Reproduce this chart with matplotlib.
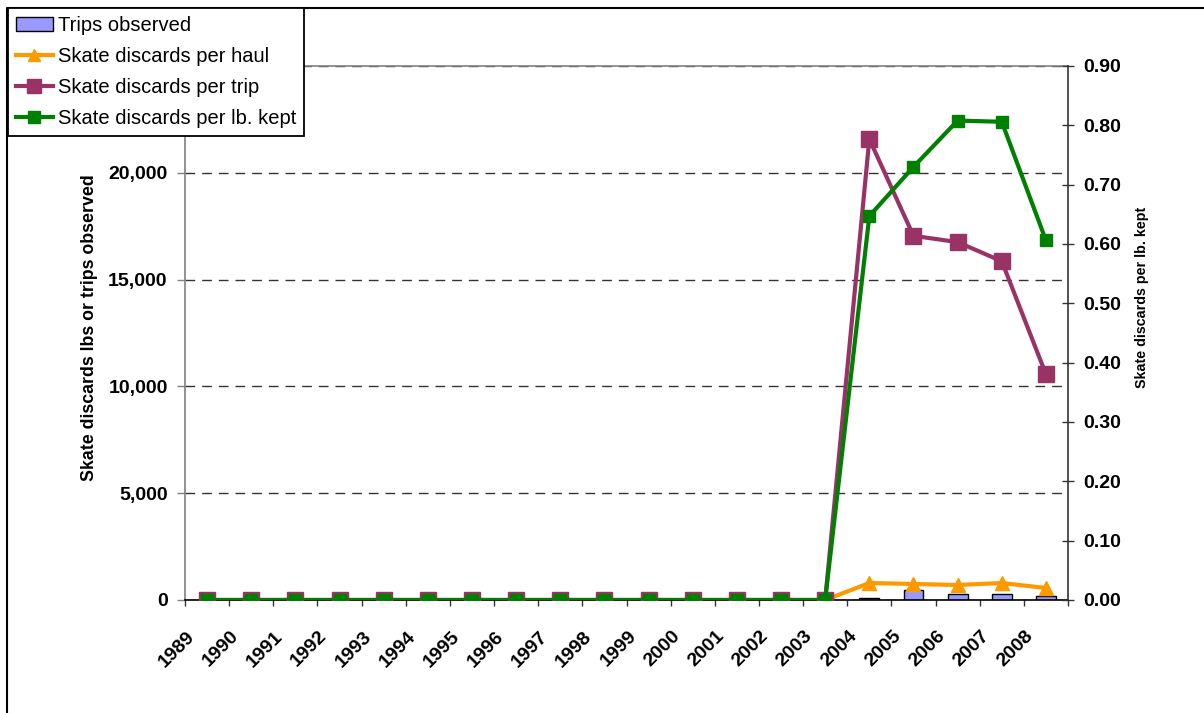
import matplotlib

matplotlib.use("Agg")
import matplotlib.pyplot as plt
import matplotlib.transforms as mtransforms
from matplotlib.lines import Line2D
from matplotlib.ticker import FixedLocator, FuncFormatter

plt.rcParams["font.family"] = ["Liberation Sans", "DejaVu Sans"]

years = [str(y) for y in range(1989, 2009)]
trips_observed = [0] * 15 + [100, 470, 295, 295, 170]
per_haul = [0] * 15 + [796, 750, 703, 796, 562]
per_trip = [0] * 15 + [21580, 17050, 16755, 15860, 10570]
per_lb_kept = [0] * 15 + [0.647, 0.730, 0.808, 0.806, 0.606]

W, H = 1204, 713
fig = plt.figure(figsize=(W / 100, H / 100), dpi=100)
ax = fig.add_axes([185 / W, 1 - 600 / H, (1068 - 185) / W, (600 - 66) / H])
ax2 = ax.twinx()

x = list(range(len(years)))

bars = ax.bar(x, trips_observed, width=0.45, color="#9999FF",
              edgecolor="#000000", linewidth=1, zorder=2,
              label="Trips observed")
l_haul, = ax.plot(x, per_haul, color="#FF9900", lw=3, marker="^", ms=10,
                  zorder=3, label="Skate discards per haul")
l_trip, = ax.plot(x, per_trip, color="#993366", lw=3, marker="s", ms=11.5,
                  zorder=4, label="Skate discards per trip")
l_kept, = ax2.plot(x, per_lb_kept, color="#008000", lw=3, marker="s", ms=9,
                   zorder=5, label="Skate discards per lb. kept")

ax.set_xlim(-0.5, len(years) - 0.5)
ax.set_ylim(0, 25000)
ax2.set_ylim(0, 0.9)

# left axis (the 25,000 label sits under the legend, so it is left blank)
ax.set_yticks([0, 5000, 10000, 15000, 20000, 25000])
ax.yaxis.set_major_formatter(
    FuncFormatter(lambda v, p: "" if v >= 25000 else f"{v:,.0f}"))
ax.tick_params(axis="y", direction="out", length=5.5, width=1, color="#808080",
               pad=7, labelsize=14)
for t in ax.get_yticklabels():
    t.set_fontweight("bold")
ax.set_ylabel("Skate discards lbs or trips observed", fontsize=12.8,
              fontweight="bold")
ax.yaxis.set_label_coords(-0.098, 0.51)

ax.grid(axis="y", color="#333333", linestyle=(0, (7, 5)), linewidth=1)
ax.set_axisbelow(True)

# x axis
ax.set_xticks(x)
ax.set_xticklabels(years, rotation=45, ha="right", fontsize=14,
                   fontweight="bold")
ax.xaxis.set_minor_locator(FixedLocator([i - 0.5 for i in range(len(years) + 1)]))
ax.tick_params(axis="x", which="major", length=0, pad=20)
ax.tick_params(axis="x", which="minor", direction="out", length=4, width=1,
               color="#333333")
shift = mtransforms.ScaledTranslation(-9 / 100, 0, fig.dpi_scale_trans)
for t in ax.get_xticklabels():
    t.set_transform(t.get_transform() + shift)

# right axis
ax2.set_yticks([i / 10 for i in range(10)])
ax2.yaxis.set_major_formatter(FuncFormatter(lambda v, p: f"{v:.2f}"))
ax2.tick_params(axis="y", direction="inout", length=8, width=1,
                color="#333333", pad=7, labelsize=14)
for t in ax2.get_yticklabels():
    t.set_fontweight("bold")
ax2.set_ylabel("Skate discards per lb. kept", fontsize=10.3, fontweight="bold")
ax2.yaxis.set_label_coords(1.076, 0.566)

for s in ("top", "left"):
    ax.spines[s].set_color("#808080")
    ax.spines[s].set_linewidth(1.2)
ax.spines["bottom"].set_color("#000000")
ax.spines["bottom"].set_linewidth(1.2)
ax.spines["right"].set_visible(False)
for s in ("top", "left", "bottom"):
    ax2.spines[s].set_visible(False)
ax2.spines["right"].set_color("#333333")
ax2.spines["right"].set_linewidth(1.2)

# outer chart border (left and top edges visible)
fig.add_artist(Line2D([7 / W, 7 / W, 1], [0, 1 - 8 / H, 1 - 8 / H],
                      transform=fig.transFigure, color="black", lw=1.5))

leg = fig.legend(handles=[bars, l_haul, l_trip, l_kept], loc="upper left",
                 bbox_to_anchor=(8 / W, 1 - 8 / H), borderaxespad=0,
                 fontsize=14.5, frameon=True, fancybox=False,
                 edgecolor="black", framealpha=1, handlelength=1.85,
                 handletextpad=0.25, labelspacing=0.6, borderpad=0.38,
                 markerscale=0.9)
leg.get_frame().set_linewidth(1.3)

fig.savefig("out.png", dpi=100)
